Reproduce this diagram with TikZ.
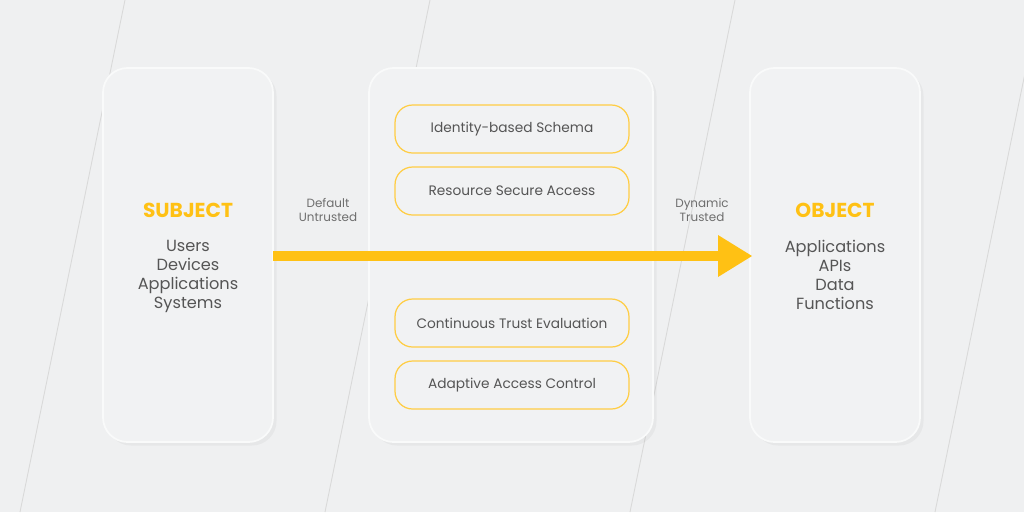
\documentclass[tikz,border=0pt]{standalone}
\usepackage{fontspec}
\setmainfont{Poppins}
\usetikzlibrary{positioning,shadows}
\definecolor{bgcol}{HTML}{EFF0F1}
\definecolor{panelcol}{HTML}{F1F2F3}
\definecolor{gold}{HTML}{FFC114}
\definecolor{textcol}{HTML}{555555}
\tikzset{
  panel/.style={fill=panelcol, rounded corners=14pt, draw=white!60!panelcol, line width=1pt,
    drop shadow={shadow xshift=2pt, shadow yshift=-2pt, opacity=0.10, fill=black!40}},
  pill/.style={draw=gold!80, line width=0.7pt, rounded corners=10pt, minimum width=4.68cm,
    minimum height=0.96cm, text=textcol, font=\fontsize{7.8}{9}\selectfont},
  heading/.style={text=gold, font=\fontsize{11.5}{14}\selectfont\bfseries},
  items/.style={text=textcol, align=center, font=\fontsize{9.2}{10.8}\selectfont},
  small/.style={text=textcol!85, align=center, font=\fontsize{6.8}{8}\selectfont}
}
\begin{document}
\begin{tikzpicture}[x=0.02cm, y=-0.02cm]

% Background
\fill[bgcol] (0,0) rectangle (1024,512);
\useasboundingbox (0,0) rectangle (1024,512);
\foreach \x in {125,430,735,1040}
  \draw[black!15, line width=0.5pt] (\x,0) -- (\x-105,512);

% Panels
\draw[panel] (103,68) rectangle (273,442);
\draw[panel] (369,68) rectangle (653,442);
\draw[panel] (750,68) rectangle (920,442);

% Subject
\node[heading] (subject) at (188,210) {SUBJECT};
\node[items, anchor=north] (subjitems) at (188,234) {Users\\Devices\\Applications\\Systems};

% Object
\node[heading] (object) at (835,210) {OBJECT};
\node[items, anchor=north] (objitems) at (835,234) {Applications\\APIs\\Data\\Functions};

% Middle pills
\node[pill] (identity) at (512,129) {Identity-based Schema};
\node[pill] (resource) at (512,191) {Resource Secure Access};
\node[pill] (trust) at (512,323) {Continuous Trust Evaluation};
\node[pill] (adaptive) at (512,385) {Adaptive Access Control};

% Labels
\node[small] (untrusted) at (328,210) {Default\\Untrusted};
\node[small] (trusted) at (702,210) {Dynamic\\Trusted};

% Arrow
\coordinate (astart) at (273,256);
\coordinate (aneck) at (718,256);
\coordinate (atip) at (752,256);
\fill[gold] (astart) ++(0,-5) rectangle ([yshift=-0.1cm]aneck);
\fill[gold] ([yshift=0.42cm]aneck) -- (atip) -- ([yshift=-0.42cm]aneck) -- cycle;

\end{tikzpicture}
\end{document}
